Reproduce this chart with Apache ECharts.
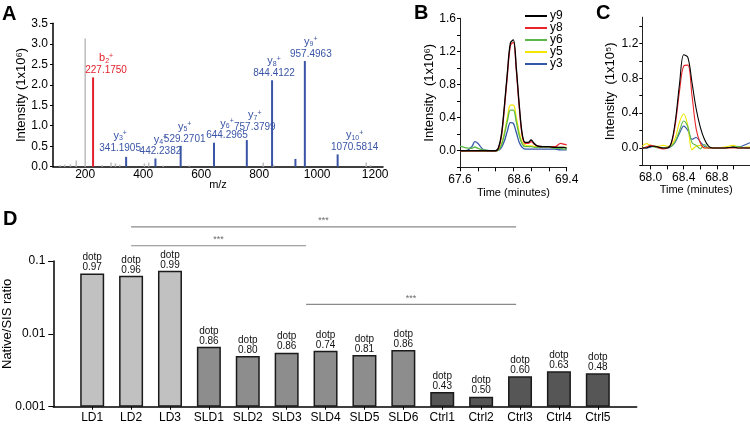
<!DOCTYPE html>
<html><head><meta charset="utf-8">
<script src="https://cdn.jsdelivr.net/npm/echarts@6/dist/echarts.min.js"></script>
<style>html,body{margin:0;padding:0;background:#fff}#c{width:750px;height:425px}</style>
</head><body><div id="c"></div>
<script>
// ---------- Panel A: MS/MS spectrum (intensity x10^6) ----------
const backgroundMz  = [115, 130, 150, 170, 200.8, 260, 290, 305, 320, 405, 420, 470, 560, 815, 850, 1170, 1185];
const backgroundInt = [0.04, 0.05, 0.06, 0.15, 3.13, 0.04, 0.10, 0.08, 0.05, 0.08, 0.10, 0.03, 0.03, 0.10, 0.05, 0.10, 0.04];
const bIonNumbers = [2];
const bIonMz      = [227.1750];
const bIonInt     = [2.18];
const yIonNumbers = [3, 4, 5, 6, 7, 8, null, 9, 10];
const yIonMz      = [341.1905, 442.2382, 529.2701, 644.2965, 757.3799, 844.4122, 925.0, 957.4963, 1070.5814];
const yIonInt     = [0.24, 0.20, 0.51, 0.585, 0.65, 2.11, 0.19, 2.58, 0.30];
const aXLabels    = [200, 400, 600, 800, 1000, 1200];

// ---------- Panel B: XIC (x10^6) ----------
const bTime = [67.6, 67.7, 67.8, 67.85, 67.9, 68.0, 68.1, 68.2, 68.25, 68.3, 68.35, 68.4, 68.45, 68.5, 68.55, 68.6, 68.65, 68.7, 68.75, 68.8, 68.85, 68.9, 69.0, 69.1, 69.2, 69.3, 69.35, 69.4];
const bY9 = [0, 0, 0, 0, 0, 0, 0, 0, 0.04, 0.20, 0.55, 0.95, 1.30, 1.34, 1.00, 0.55, 0.20, 0.10, 0.10, 0.13, 0.09, 0.06, 0.05, 0.05, 0.04, 0.04, 0.04, 0.03];
const bY8 = [0, 0, 0, 0, 0, 0, 0, 0, 0.03, 0.18, 0.52, 0.92, 1.27, 1.31, 0.97, 0.52, 0.18, 0.09, 0.09, 0.11, 0.08, 0.06, 0.05, 0.05, 0.05, 0.09, 0.08, 0.07];
const bY6 = [0.055, 0.035, 0.03, 0.045, 0.03, 0.01, 0, 0, 0.01, 0.07, 0.20, 0.36, 0.49, 0.49, 0.35, 0.18, 0.08, 0.05, 0.05, 0.05, 0.04, 0.04, 0.04, 0.04, 0.03, 0.03, 0.02, 0.02];
const bY5 = [0, 0, 0, 0, 0, 0, 0, 0, 0.01, 0.08, 0.22, 0.40, 0.55, 0.55, 0.40, 0.22, 0.10, 0.07, 0.06, 0.06, 0.05, 0.05, 0.05, 0.04, 0.04, 0.04, 0.04, 0.04];
const bY3 = [0, 0, 0.05, 0.11, 0.09, 0.01, 0, 0, 0.005, 0.04, 0.12, 0.24, 0.34, 0.33, 0.22, 0.10, 0.04, 0.02, 0.02, 0.02, 0.02, 0.02, 0.02, 0.02, 0.02, 0.01, 0.01, 0.01];
const bXTicks  = [67.6, 67.9, 68.2, 68.5, 68.8, 69.1, 69.4];
const bXLabels = [67.6, 68.6, 69.4];
const bYTicks  = [-0.2, 0, 0.2, 0.4, 0.6, 0.8, 1.0, 1.2, 1.4, 1.6];
const bYLabels = [0, 0.4, 0.8, 1.2, 1.6];

// ---------- Panel C: XIC (x10^5) ----------
const cTime = [67.9, 67.95, 68.0, 68.05, 68.1, 68.15, 68.2, 68.25, 68.3, 68.35, 68.4, 68.45, 68.5, 68.55, 68.6, 68.65, 68.7, 68.75, 68.8, 68.9, 69.0, 69.05, 69.1, 69.15, 69.2];
const cY9 = [0, 0, 0.02, 0.02, 0.01, 0, 0, 0.06, 0.32, 0.74, 1.07, 1.04, 0.75, 0.45, 0.24, 0.10, 0.02, 0, 0, 0, 0.01, 0, 0, 0, 0];
const cY8 = [0, 0.01, 0.03, 0.02, 0, -0.01, 0, 0.05, 0.28, 0.66, 0.94, 0.95, 0.60, 0.22, 0.06, 0, 0, 0, 0, 0, 0, 0, 0, 0, 0];
const cY6 = [0, 0.01, 0.02, 0.01, 0, 0, 0.01, 0.02, 0.08, 0.20, 0.31, 0.24, 0.06, 0.03, -0.01, 0.04, 0, 0, 0, 0, 0.01, 0.02, 0.01, 0, 0];
const cY5 = [0.02, 0.05, 0.03, 0.02, 0.02, 0.03, 0.02, 0.03, 0.12, 0.30, 0.39, 0.25, -0.02, 0.02, 0.03, 0, 0, 0, 0, 0.01, 0.03, 0.01, 0, 0.01, 0.01];
const cY3 = [0, 0, 0.01, 0.02, 0.01, 0, 0, 0.02, 0.07, 0.17, 0.25, 0.20, 0.10, 0.12, 0.07, 0.02, 0, 0, 0, 0, 0.01, 0.01, 0.02, 0.04, 0.06];
const cXTicks  = [68.0, 68.2, 68.4, 68.6, 68.8, 69.0, 69.2];
const cXLabels = [68.0, 68.4, 68.8];
const cYTicks  = [-0.2, 0, 0.2, 0.4, 0.6, 0.8, 1.0, 1.2, 1.4];
const cYLabels = [0, 0.4, 0.8, 1.2];

// ---------- Panel D: Native/SIS ratio ----------
const categories = ['LD1', 'LD2', 'LD3', 'SLD1', 'SLD2', 'SLD3', 'SLD4', 'SLD5', 'SLD6', 'Ctrl1', 'Ctrl2', 'Ctrl3', 'Ctrl4', 'Ctrl5'];
const groups     = ['LD', 'LD', 'LD', 'SLD', 'SLD', 'SLD', 'SLD', 'SLD', 'SLD', 'Ctrl', 'Ctrl', 'Ctrl', 'Ctrl', 'Ctrl'];
const ratios     = [0.0676, 0.0627, 0.0734, 0.00665, 0.00496, 0.00551, 0.00586, 0.00512, 0.0060, 0.00159, 0.00137, 0.00261, 0.00306, 0.00287];
const dotp       = ['0.97', '0.96', '0.99', '0.86', '0.80', '0.86', '0.74', '0.81', '0.86', '0.43', '0.50', '0.60', '0.63', '0.48'];
const dYLabels   = [0.001, 0.01, 0.1];
const sigStart   = [1, 1, 5.5];     // category positions
const sigEnd     = [10.9, 5.5, 10.9];
const sigLevel   = [0.294, 0.162, 0.0254];
const sigText    = ['***', '***', '***'];

// ---------- styling ----------
const FONT = 'Liberation Sans, Arial, Helvetica, sans-serif';
const BLUE = '#3a55a6', RED = '#e3202a', GRAY = '#bdbdbd';
const traceColors = {y9: '#000000', y8: '#e8252a', y6: '#5cb947', y5: '#f0e600', y3: '#3457aa'};
const groupColors = {LD: '#c1c1c1', SLD: '#8d8d8d', Ctrl: '#565656'};
const yLabelDx = [-6, 5, 4, 13, 8, 2, 0, 6, 17];
const yLabelDy = [-2, 0, 0, 0, -6, 0, 0, 0, 0];

const pairs = (xs, ys) => xs.map((x, i) => [x, ys[i]]);
const tickLen = (n) => ({show: true, length: n, lineStyle: {color: '#000', width: 1}});
const ionRich = (color) => ({
  n: {fontSize: 11, lineHeight: 12, color, fontFamily: FONT},
  s: {fontSize: 7, lineHeight: 7, verticalAlign: 'bottom', color, fontFamily: FONT},
  p: {fontSize: 7, lineHeight: 7, verticalAlign: 'top', color, fontFamily: FONT},
  v: {fontSize: 10, lineHeight: 12, color, fontFamily: FONT}
});
const ionText = (letter, num, mz) => `{n|${letter}}{s|${num}}{p|+}\n{v|${mz.toFixed(4)}}`;

const chart = echarts.init(document.getElementById('c'), null, {renderer: 'canvas', width: 750, height: 425});

const lineSeries = (name, xi, t, v, w) => ({
  name, type: 'line', xAxisIndex: xi, yAxisIndex: xi, data: pairs(t, v),
  symbol: 'none', smooth: 0.35, lineStyle: {color: traceColors[name], width: w},
  itemStyle: {color: traceColors[name]}, z: 3, emphasis: {disabled: true}
});

const option = {
  animation: false,
  backgroundColor: '#fff',
  textStyle: {fontFamily: FONT, color: '#000'},
  title: [
    {text: 'A', left: 2, top: 4, padding: 0, textStyle: {fontSize: 20, fontWeight: 'bold', fontFamily: FONT, color: '#000'}},
    {text: 'B', left: 414, top: 3, padding: 0, textStyle: {fontSize: 20, fontWeight: 'bold', fontFamily: FONT, color: '#000'}},
    {text: 'C', left: 596, top: 3, padding: 0, textStyle: {fontSize: 20, fontWeight: 'bold', fontFamily: FONT, color: '#000'}},
    {text: 'D', left: 3, top: 209, padding: 0, textStyle: {fontSize: 20, fontWeight: 'bold', fontFamily: FONT, color: '#000'}}
  ],
  legend: {
    data: ['y9', 'y8', 'y6', 'y5', 'y3'], orient: 'vertical', left: 525, top: 10,
    icon: 'rect', itemWidth: 22, itemHeight: 2, itemGap: 0, padding: 0, selectedMode: false,
    textStyle: {fontSize: 12, lineHeight: 12, color: '#000', fontFamily: FONT, padding: [0, 0, 0, -2]}
  },
  grid: [
    {left: 53, top: 23.3, width: 330, height: 143.4, outerBoundsMode: 'none'},
    {left: 460, top: 18.3, width: 106.7, height: 149, outerBoundsMode: 'none'},
    {left: 642.3, top: 17.2, width: 107.7, height: 148.2, outerBoundsMode: 'none'},
    {left: 53.3, top: 261, width: 583.4, height: 145.7, outerBoundsMode: 'none'}
  ],
  xAxis: [
    {type: 'value', gridIndex: 0, min: 89, max: 1227, splitLine: {show: false},
     axisLine: {show: true, onZero: false, lineStyle: {color: '#000', width: 1.5}}, axisTick: {show: false},
     axisLabel: {customValues: aXLabels, formatter: v => String(v), fontSize: 12, color: '#000', margin: 2},
     name: 'm/z', nameLocation: 'middle', nameGap: 13, nameMoveOverlap: false, nameTextStyle: {fontSize: 11, color: '#000'}},
    {type: 'value', gridIndex: 1, min: 67.6, max: 69.4, splitLine: {show: false},
     axisLine: {show: true, onZero: false, lineStyle: {color: '#222', width: 1}},
     axisTick: Object.assign(tickLen(4), {customValues: bXTicks}),
     axisLabel: {customValues: bXLabels, formatter: v => v.toFixed(1), fontSize: 12, color: '#000', margin: 6},
     name: 'Time (minutes)', nameLocation: 'middle', nameGap: 20, nameMoveOverlap: false, nameTextStyle: {fontSize: 11, color: '#000'}},
    {type: 'value', gridIndex: 2, min: 67.9, max: 69.2, splitLine: {show: false},
     axisLine: {show: true, onZero: false, lineStyle: {color: '#222', width: 1}},
     axisTick: Object.assign(tickLen(4), {customValues: cXTicks}),
     axisLabel: {customValues: cXLabels, formatter: v => v.toFixed(1), fontSize: 12, color: '#000', margin: 6},
     name: 'Time (minutes)', nameLocation: 'middle', nameGap: 19, nameMoveOverlap: false, nameTextStyle: {fontSize: 11, color: '#000'}},
    {type: 'value', gridIndex: 3, min: -1, max: 14, splitLine: {show: false},
     axisLine: {show: true, onZero: false, lineStyle: {color: '#000', width: 1.5}},
     axisTick: Object.assign(tickLen(3), {customValues: categories.map((c, i) => i)}),
     axisLabel: {customValues: categories.map((c, i) => i), formatter: v => categories[Math.round(v)], fontSize: 12, color: '#000', margin: 5}}
  ],
  yAxis: [
    {type: 'value', gridIndex: 0, min: 0, max: 3.5, interval: 0.5, splitLine: {show: false},
     axisLine: {show: true, onZero: false, lineStyle: {color: '#000', width: 1.5}}, axisTick: tickLen(3),
     axisLabel: {formatter: v => v.toFixed(1), fontSize: 12, color: '#000', margin: 5},
     name: 'Intensity (1x10⁶)', nameLocation: 'middle', nameGap: 25, nameMoveOverlap: false, nameTextStyle: {fontSize: 13, color: '#000'}},
    {type: 'value', gridIndex: 1, min: -0.2, max: 1.6, splitLine: {show: false},
     axisLine: {show: true, onZero: false, lineStyle: {color: '#222', width: 1}},
     axisTick: Object.assign(tickLen(3), {customValues: bYTicks}),
     axisLabel: {customValues: bYLabels, formatter: v => v.toFixed(1), fontSize: 12, color: '#000', margin: 4},
     name: 'Intensity  (1x10⁶)', nameLocation: 'middle', nameGap: 24.5, nameMoveOverlap: false, nameTextStyle: {fontSize: 13, color: '#000'}},
    {type: 'value', gridIndex: 2, min: -0.2, max: 1.5, splitLine: {show: false},
     axisLine: {show: true, onZero: false, lineStyle: {color: '#222', width: 1}},
     axisTick: Object.assign(tickLen(3), {customValues: cYTicks}),
     axisLabel: {customValues: cYLabels, formatter: v => v.toFixed(1), fontSize: 12, color: '#000', margin: 4},
     name: 'Intensity  (1x10⁵)', nameLocation: 'middle', nameGap: 25, nameMoveOverlap: false, nameTextStyle: {fontSize: 13, color: '#000'}},
    {type: 'log', logBase: 10, gridIndex: 3, min: 0.001, max: 0.1, startValue: 0.001, splitLine: {show: false},
     axisLine: {show: true, onZero: false, lineStyle: {color: '#000', width: 1.5}}, axisTick: tickLen(5), minorTick: {show: false},
     axisLabel: {customValues: dYLabels, formatter: v => String(+(+v).toPrecision(1)), fontSize: 12, color: '#000', margin: 8},
     name: 'Native/SIS ratio', nameLocation: 'middle', nameGap: 39, nameMoveOverlap: false,
     nameTextStyle: {fontSize: 13, color: '#000', padding: [0, 0, 0, 20]}}
  ],
  series: [
    // Panel A
    {name: 'background', type: 'bar', xAxisIndex: 0, yAxisIndex: 0, barWidth: 1.5, barGap: '-100%',
     data: pairs(backgroundMz, backgroundInt), itemStyle: {color: GRAY}, emphasis: {disabled: true}},
    {name: 'b ions', type: 'bar', xAxisIndex: 0, yAxisIndex: 0, barWidth: 2, barGap: '-100%',
     data: bIonMz.map((mz, i) => ({value: [mz, bIonInt[i]], label: {formatter: ionText('b', bIonNumbers[i], mz), offset: [13, 0]}})),
     itemStyle: {color: RED}, emphasis: {disabled: true},
     label: {show: true, position: 'top', distance: 1, color: RED, fontSize: 10, lineHeight: 12, align: 'center', rich: ionRich(RED)}},
    {name: 'y ions', type: 'bar', xAxisIndex: 0, yAxisIndex: 0, barWidth: 2, barGap: '-100%',
     data: yIonMz.map((mz, i) => ({value: [mz, yIonInt[i]],
       label: yIonNumbers[i] ? {show: true, formatter: ionText('y', yIonNumbers[i], mz), offset: [yLabelDx[i], yLabelDy[i]]} : {show: false}})),
     itemStyle: {color: BLUE}, emphasis: {disabled: true},
     label: {show: true, position: 'top', distance: 1, color: BLUE, fontSize: 10, lineHeight: 12, align: 'center', rich: ionRich(BLUE)}},
    // Panel B
    lineSeries('y3', 1, bTime, bY3, 1.3),
    lineSeries('y5', 1, bTime, bY5, 1.3),
    lineSeries('y6', 1, bTime, bY6, 1.3),
    lineSeries('y8', 1, bTime, bY8, 1.3),
    lineSeries('y9', 1, bTime, bY9, 1.3),
    // Panel C
    lineSeries('y3', 2, cTime, cY3, 1.1),
    lineSeries('y5', 2, cTime, cY5, 1.1),
    lineSeries('y6', 2, cTime, cY6, 1.1),
    lineSeries('y8', 2, cTime, cY8, 1.1),
    lineSeries('y9', 2, cTime, cY9, 1.1),
    // Panel D bars
    {name: 'ratio', type: 'bar', xAxisIndex: 3, yAxisIndex: 3, barWidth: 24, emphasis: {disabled: true},
     data: ratios.map((r, i) => ({value: [i, r], itemStyle: {color: groupColors[groups[i]]}})),
     itemStyle: {borderColor: '#1a1a1a', borderWidth: 1.5},
     label: {show: true, position: 'top', distance: 1, fontSize: 10, lineHeight: 10, color: '#111',
             formatter: p => 'dotp\n' + dotp[p.dataIndex]}},
    // Panel D significance brackets
    ...sigStart.map((s, k) => ({
      name: 'sig' + k, type: 'line', xAxisIndex: 3, yAxisIndex: 3, clip: false, symbol: 'none', silent: true,
      data: [[s, sigLevel[k]], [sigEnd[k], sigLevel[k]]], lineStyle: {color: '#8a8a8a', width: 1.2}, z: 5,
      emphasis: {disabled: true}
    })),
    {name: 'sigText', type: 'scatter', xAxisIndex: 3, yAxisIndex: 3, clip: false, symbolSize: 1, silent: true,
     itemStyle: {color: 'rgba(0,0,0,0)'}, emphasis: {disabled: true},
     data: sigStart.map((s, k) => ({value: [(s + sigEnd[k]) / 2, sigLevel[k]], label: {formatter: sigText[k]}})),
     label: {show: true, position: 'top', distance: 1, fontSize: 9, color: '#444'}, z: 6}
  ]
};
chart.setOption(option);
</script>
</body></html>
